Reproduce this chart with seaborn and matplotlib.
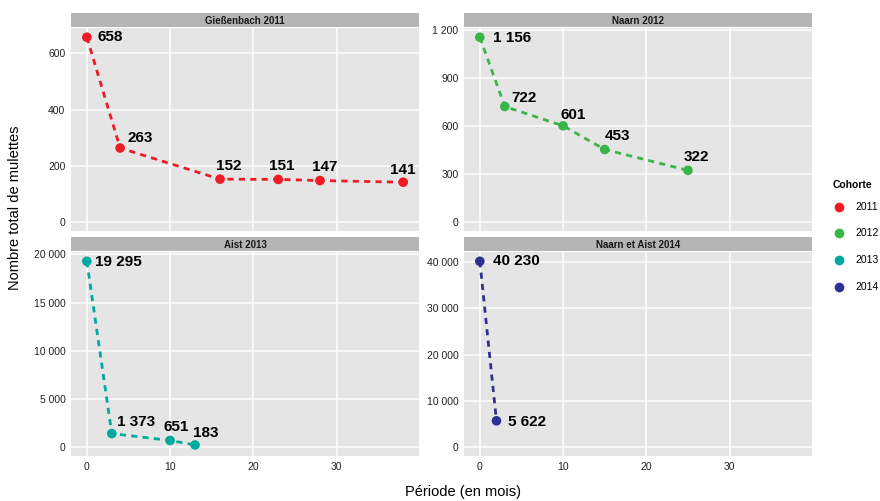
import matplotlib
matplotlib.use("Agg")
import matplotlib.pyplot as plt
from matplotlib.ticker import MultipleLocator, FuncFormatter
from matplotlib.lines import Line2D
import seaborn as sns
import pandas as pd

# --- data -------------------------------------------------------------
cohorts = ["2011", "2012", "2013", "2014"]
panel_titles = ["Gießenbach 2011", "Naarn 2012", "Aist 2013", "Naarn et Aist 2014"]

periode_2011 = [0, 4, 16, 23, 28, 38]
mulettes_2011 = [658, 263, 152, 151, 147, 141]

periode_2012 = [0, 3, 10, 15, 25]
mulettes_2012 = [1156, 722, 601, 453, 322]

periode_2013 = [0, 3, 10, 13]
mulettes_2013 = [19295, 1373, 651, 183]

periode_2014 = [0, 2]
mulettes_2014 = [40230, 5622]

y_steps = [200, 300, 5000, 10000]
x_ticks = [0, 10, 20, 30]

colors = {"2011": "#ED1C24", "2012": "#39B54A", "2013": "#00A99D", "2014": "#2E3192"}

frames = []
for c, t, px, py in zip(cohorts, panel_titles,
                        [periode_2011, periode_2012, periode_2013, periode_2014],
                        [mulettes_2011, mulettes_2012, mulettes_2013, mulettes_2014]):
    frames.append(pd.DataFrame({"Cohorte": c, "site": t, "periode": px, "mulettes": py}))
df = pd.concat(frames, ignore_index=True)

# label placement (pixel offsets from each point, horizontal alignment)
label_offsets = {
    "2011": [(11, 0, "left"), (7, 10, "left"), (9, 13, "center"), (3, 13, "center"),
             (5, 14, "center"), (0, 12, "center")],
    "2012": [(13, -1, "left"), (7, 9, "left"), (10, 11, "center"), (13, 13, "center"),
             (8, 13, "center")],
    "2013": [(8, -1, "left"), (5, 12, "left"), (6, 13, "center"), (11, 12, "center")],
    "2014": [(13, 0, "left"), (12, -1, "left")],
}


def fmt_num(v):
    return f"{int(v):,}".replace(",", " ")


# --- figure -----------------------------------------------------------
sns.set_theme(style="darkgrid")
plt.rcParams["font.family"] = ["Liberation Sans", "DejaVu Sans"]

W, H = 880, 501
fig = plt.figure(figsize=(W / 100, H / 100), dpi=100)
fig.patch.set_facecolor("white")

panel_bg = "#E5E5E5"
strip_bg = "#B5B5B5"

# panel boxes in pixel coordinates (left, top, right, bottom)
boxes = [(71, 28, 419, 231), (464, 28, 812, 231),
         (71, 252, 419, 456), (464, 252, 812, 456)]
strip_h = 14

for i, (c, title, step) in enumerate(zip(cohorts, panel_titles, y_steps)):
    l, t, r, b = boxes[i]
    ax = fig.add_axes([l / W, 1 - b / H, (r - l) / W, (b - t) / H])
    ax.set_facecolor(panel_bg)
    sub = df[df["Cohorte"] == c]

    sns.lineplot(data=sub, x="periode", y="mulettes", ax=ax, color=colors[c],
                 linewidth=2.0, linestyle=(0, (2.2, 1.9)), zorder=3)
    sns.scatterplot(data=sub, x="periode", y="mulettes", ax=ax, color=colors[c],
                    s=48, edgecolor="none", zorder=4)

    for (xv, yv), (dx, dy, ha) in zip(zip(sub["periode"], sub["mulettes"]), label_offsets[c]):
        ax.annotate(fmt_num(yv), xy=(xv, yv), xytext=(dx, dy), textcoords="offset pixels",
                    ha=ha, va="center", fontsize=11, fontweight="bold", color="black",
                    zorder=5)

    ymax = sub["mulettes"].max()
    ax.set_ylim(-0.05 * ymax, 1.05 * ymax)
    ax.set_xlim(-1.9, 39.9)
    ax.yaxis.set_major_locator(MultipleLocator(step))
    ax.yaxis.set_major_formatter(FuncFormatter(lambda v, p: fmt_num(v)))
    ax.set_xticks(x_ticks)
    ax.grid(True, color="white", linewidth=1.1)
    ax.set_axisbelow(True)
    for sp in ax.spines.values():
        sp.set_visible(False)
    ax.set_xlabel("")
    ax.set_ylabel("")
    ax.tick_params(axis="both", labelsize=7.5, colors="#222222", length=2, width=0.6,
                   pad=2, direction="out")
    ax.tick_params(axis="both", color="#999999")
    if i < 2:
        ax.tick_params(axis="x", labelbottom=False, length=0)

    # facet strip
    sax = fig.add_axes([l / W, 1 - (t - 1) / H, (r - l) / W, strip_h / H])
    sax.set_facecolor(strip_bg)
    sax.set_xticks([])
    sax.set_yticks([])
    for sp in sax.spines.values():
        sp.set_visible(False)
    sax.text(0.5, 0.45, title, ha="center", va="center", fontsize=7,
             fontweight="bold", color="#1a1a1a", transform=sax.transAxes)

# axis titles
fig.text(463 / W, 1 - 492 / H, "Période (en mois)", ha="center", va="center",
         fontsize=10.5, color="black")
fig.text(15 / W, 1 - 208 / H, "Nombre total de mulettes", ha="center", va="center",
         rotation=90, fontsize=10.5, color="black")

# legend, laid out in pixel coordinates
fig.text(833 / W, 1 - 185 / H, "Cohorte", ha="left", va="center", fontsize=7.5,
         fontweight="bold", color="black")
for k, c in enumerate(cohorts):
    yk = 206.7 + k * 26.7
    fig.add_artist(Line2D([839 / W], [1 - yk / H], marker="o", linestyle="none",
                          markersize=7, markerfacecolor=colors[c],
                          markeredgecolor="none", transform=fig.transFigure))
    fig.text(855 / W, 1 - yk / H, c, ha="left", va="center", fontsize=7.5,
             color="black")

fig.savefig("out.png", dpi=100, facecolor="white")
